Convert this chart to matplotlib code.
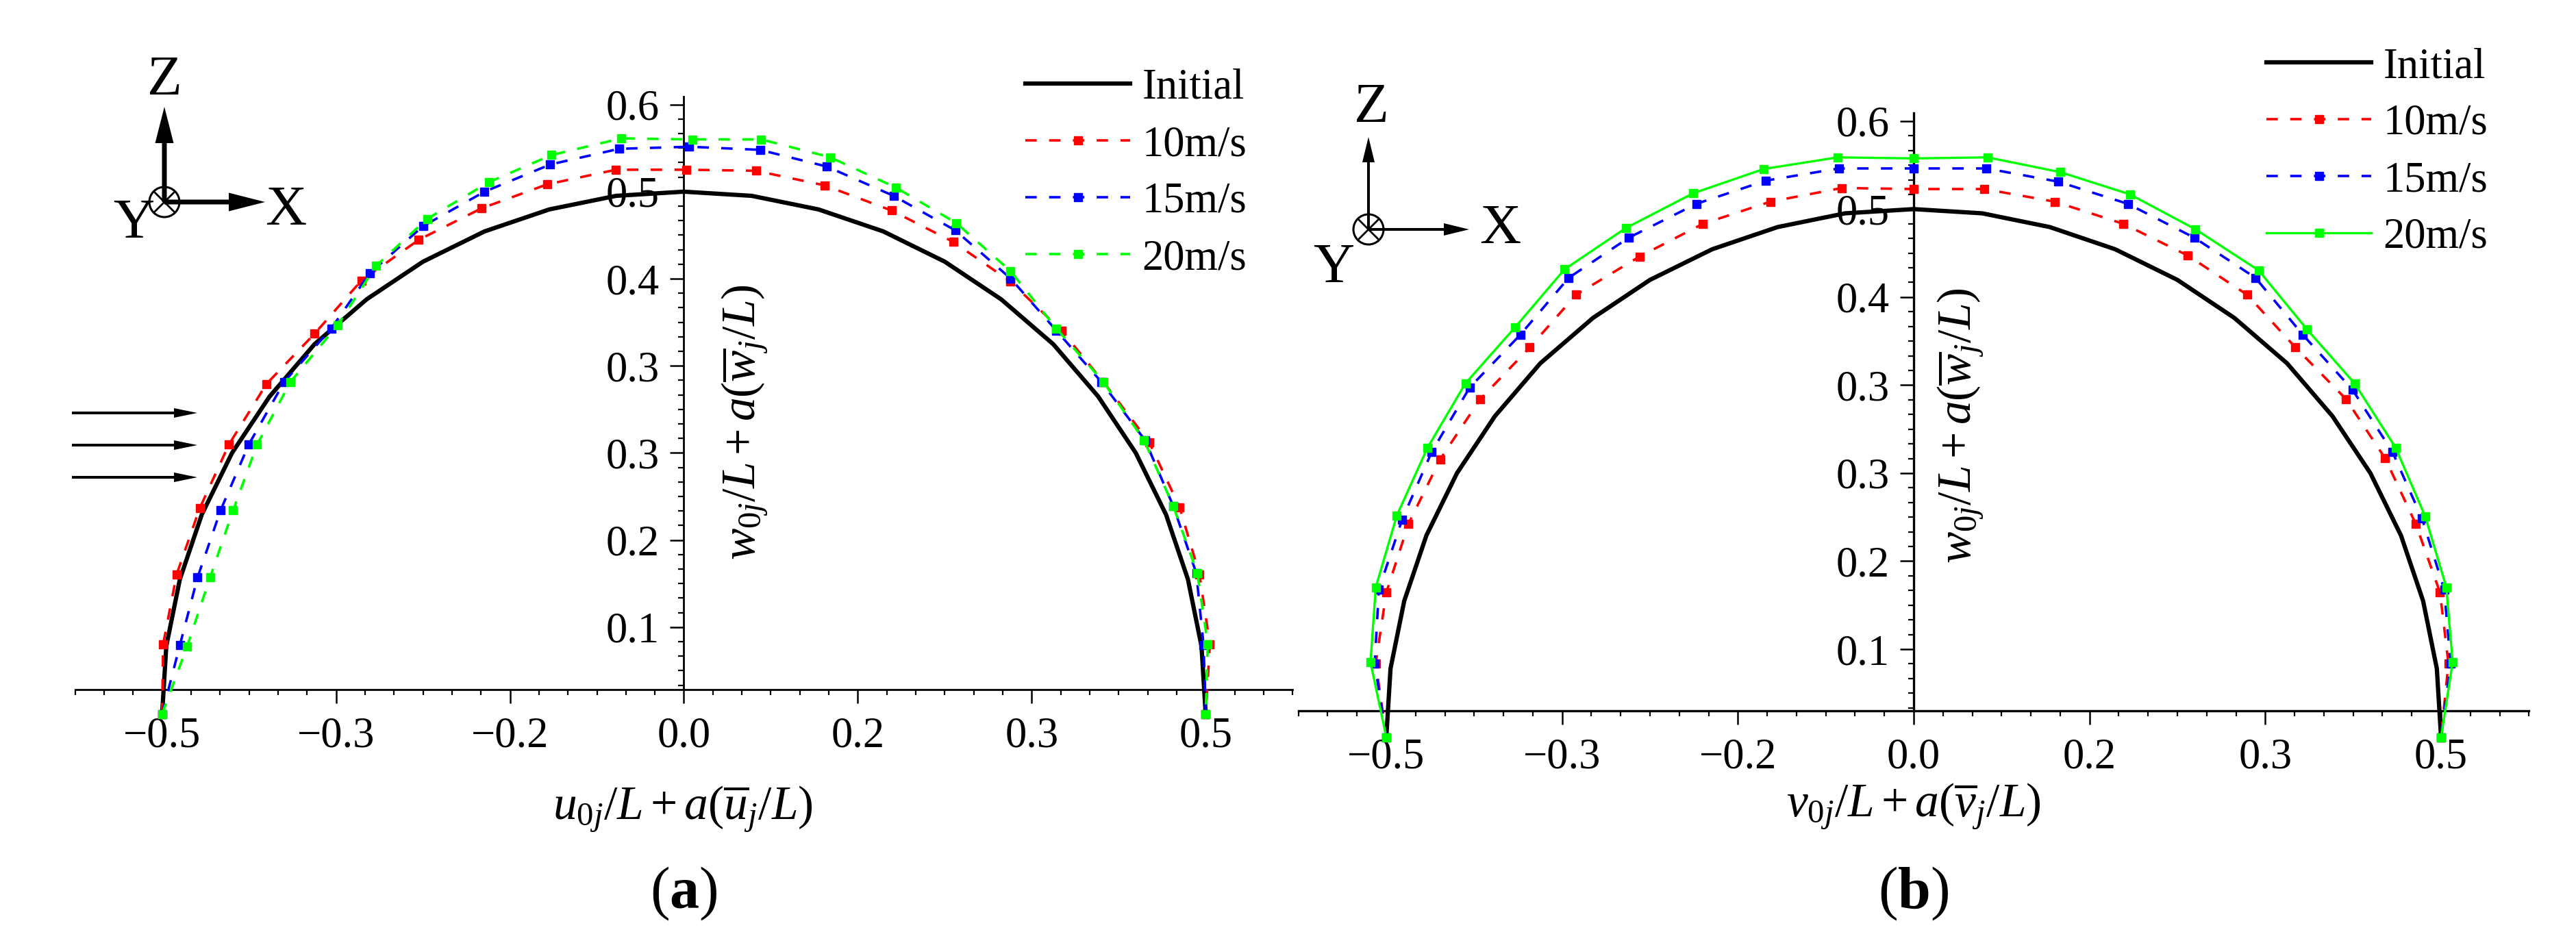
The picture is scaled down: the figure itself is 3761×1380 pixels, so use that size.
import matplotlib
matplotlib.use('Agg')
import matplotlib.pyplot as plt
from matplotlib.ticker import FixedLocator, MultipleLocator
from matplotlib.patches import Circle

# --------- data ---------
series_labels = ['Initial', '10m/s', '15m/s', '20m/s']

init_x = [-0.5, -0.496, -0.483, -0.462, -0.433, -0.397, -0.354, -0.304, -0.25, -0.191, -0.129, -0.065, 0.0,
          0.065, 0.129, 0.191, 0.25, 0.304, 0.354, 0.397, 0.433, 0.462, 0.483, 0.496, 0.5]
init_z = [0.0, 0.065, 0.129, 0.191, 0.25, 0.304, 0.354, 0.397, 0.433, 0.462, 0.483, 0.496, 0.5,
          0.496, 0.483, 0.462, 0.433, 0.397, 0.354, 0.304, 0.25, 0.191, 0.129, 0.065, 0.0]

# panel (a): along-wind plane
a10_x = [-0.5, -0.499, -0.486, -0.464, -0.436, -0.400, -0.354, -0.309, -0.254, -0.194, -0.131, -0.065, 0.002,
         0.069, 0.135, 0.199, 0.258, 0.313, 0.362, 0.402, 0.446, 0.475, 0.494, 0.504, 0.5]
a10_z = [0.0, 0.067, 0.134, 0.197, 0.258, 0.316, 0.364, 0.415, 0.454, 0.484, 0.507, 0.521, 0.521,
         0.520, 0.506, 0.482, 0.452, 0.414, 0.367, 0.318, 0.260, 0.198, 0.134, 0.067, 0.0]
a15_x = [-0.5, -0.483, -0.466, -0.444, -0.417, -0.383, -0.338, -0.301, -0.250, -0.191, -0.128, -0.062, 0.005,
         0.073, 0.137, 0.201, 0.260, 0.313, 0.357, 0.400, 0.442, 0.469, 0.491, 0.498, 0.5]
a15_z = [0.0, 0.066, 0.131, 0.195, 0.258, 0.318, 0.369, 0.422, 0.467, 0.500, 0.526, 0.541, 0.543,
         0.540, 0.524, 0.496, 0.463, 0.417, 0.367, 0.318, 0.262, 0.199, 0.135, 0.066, 0.0]
a20_x = [-0.5, -0.476, -0.454, -0.432, -0.409, -0.377, -0.332, -0.295, -0.246, -0.187, -0.127, -0.060, 0.008,
         0.074, 0.140, 0.203, 0.261, 0.313, 0.357, 0.402, 0.441, 0.469, 0.492, 0.502, 0.5]
a20_z = [0.0, 0.065, 0.131, 0.195, 0.258, 0.318, 0.372, 0.429, 0.474, 0.509, 0.535, 0.551, 0.550,
         0.550, 0.533, 0.504, 0.470, 0.424, 0.369, 0.318, 0.262, 0.199, 0.135, 0.067, 0.0]

# panel (b): cross-wind plane
b10_x = [-0.5, -0.510, -0.500, -0.479, -0.449, -0.411, -0.364, -0.320, -0.260, -0.200, -0.136, -0.068, 0.0,
         0.067, 0.134, 0.199, 0.260, 0.316, 0.362, 0.410, 0.447, 0.476, 0.499, 0.507, 0.5]
b10_z = [0.0, 0.070, 0.137, 0.202, 0.263, 0.320, 0.369, 0.419, 0.455, 0.486, 0.507, 0.520, 0.519,
         0.519, 0.507, 0.486, 0.456, 0.419, 0.369, 0.320, 0.264, 0.202, 0.137, 0.070, 0.0]
b15_x = [-0.5, -0.511, -0.507, -0.485, -0.457, -0.421, -0.373, -0.327, -0.270, -0.206, -0.140, -0.071, 0.0,
         0.069, 0.137, 0.203, 0.266, 0.324, 0.369, 0.416, 0.454, 0.482, 0.503, 0.509, 0.5]
b15_z = [0.0, 0.070, 0.140, 0.206, 0.270, 0.331, 0.381, 0.435, 0.473, 0.505, 0.527, 0.5385, 0.5385,
         0.5385, 0.526, 0.505, 0.473, 0.435, 0.381, 0.329, 0.270, 0.207, 0.140, 0.070, 0.0]
b20_x = [-0.5, -0.515, -0.510, -0.490, -0.461, -0.425, -0.378, -0.331, -0.273, -0.209, -0.142, -0.072, 0.0,
         0.070, 0.139, 0.205, 0.267, 0.327, 0.373, 0.418, 0.457, 0.485, 0.505, 0.511, 0.5]
b20_z = [0.0, 0.071, 0.142, 0.210, 0.274, 0.335, 0.388, 0.443, 0.482, 0.515, 0.538, 0.549, 0.548,
         0.549, 0.535, 0.514, 0.481, 0.442, 0.386, 0.335, 0.274, 0.209, 0.142, 0.071, 0.0]

# Origin-style ticks: positions at sixths / twelfths, labels rounded to 1 decimal
xtick_pos = [-0.5, -1 / 3, -1 / 6, 0.0, 1 / 6, 1 / 3, 0.5]
xtick_labels = ['\u22120.5', '\u22120.3', '\u22120.2', '0.0', '0.2', '0.3', '0.5']
ytick_pos = [1 / 12, 2 / 12, 3 / 12, 4 / 12, 5 / 12, 6 / 12, 7 / 12]
ytick_labels = ['0.1', '0.2', '0.3', '0.3', '0.4', '0.5', '0.6']

W, H = 3762, 1380
FS = 45
LABEL_FS = 50

plt.rcParams['font.family'] = ['Liberation Serif', 'DejaVu Serif']
plt.rcParams['mathtext.fontset'] = 'custom'
plt.rcParams['mathtext.rm'] = 'Liberation Serif'
plt.rcParams['mathtext.it'] = 'Liberation Serif:italic'
plt.rcParams['mathtext.bf'] = 'Liberation Serif:bold'
plt.rcParams['lines.scale_dashes'] = False


def px_axes(fig, left, right, top, bottom):
    # axes placed from pixel edges of the reference
    return fig.add_axes([left / W, 1 - bottom / H, (right - left) / W, (bottom - top) / H])


def style_axes(ax, ylow, spine_w):
    ax.set_xlim(-7 / 12, 7 / 12)
    ax.set_ylim(ylow, 0.591)
    ax.spines['top'].set_visible(False)
    ax.spines['right'].set_visible(False)
    ax.spines['left'].set_position(('data', 0))
    for s in ('left', 'bottom'):
        ax.spines[s].set_linewidth(spine_w)
    ax.xaxis.set_major_locator(FixedLocator(xtick_pos))
    ax.xaxis.set_minor_locator(MultipleLocator(1 / 36))
    ax.yaxis.set_major_locator(FixedLocator(ytick_pos))
    ax.yaxis.set_minor_locator(MultipleLocator(1 / 72))
    ax.set_xticklabels(xtick_labels)
    ax.set_yticklabels(ytick_labels)
    ax.tick_params(which='major', direction='out', length=14.4, width=1.8, labelsize=FS)
    ax.tick_params(which='minor', direction='out', length=6, width=1.6)
    ax.tick_params(axis='x', which='major', pad=14)
    ax.tick_params(axis='y', which='major', pad=11)
    ax.patch.set_alpha(0)


def draw_series(ax, curves, green_solid):
    ax.plot(init_x, init_z, color='black', lw=4.5, label=series_labels[0], clip_on=False, zorder=3)
    colors = ['#ff0000', '#0000ff', '#00ff00']
    for i, (xs, zs) in enumerate(curves):
        kw = dict(color=colors[i], lw=2.6, marker='s', ms=9, label=series_labels[i + 1],
                  clip_on=False, zorder=3)
        if green_solid and i == 2:
            kw['lw'] = 2.4
            ax.plot(xs, zs, ls='-', **kw)
        else:
            ax.plot(xs, zs, ls=(0, (12, 13)), **kw)


def add_legend(ax, left_px, top_px):
    ax.legend(loc='upper left', bbox_to_anchor=(left_px / W, 1 - top_px / H),
              bbox_transform=ax.figure.transFigure, frameon=False, fontsize=FS,
              borderpad=0, borderaxespad=0, handlelength=2.45, handletextpad=0.28,
              labelspacing=0.40, numpoints=1)


fig = plt.figure(figsize=(W / 100, H / 100), dpi=100)

ax_a = px_axes(fig, 109.7, 1887.3, 141, 1007)
style_axes(ax_a, 0.0236, 2.0)
draw_series(ax_a, [(a10_x, a10_z), (a15_x, a15_z), (a20_x, a20_z)], green_solid=False)
add_legend(ax_a, 1497, 100)

ax_b = px_axes(fig, 1895.7, 3692.3, 165, 1038)
style_axes(ax_b, 0.025, 2.4)
draw_series(ax_b, [(b10_x, b10_z), (b15_x, b15_z), (b20_x, b20_z)], green_solid=True)
add_legend(ax_b, 3309, 69)

# overlay in pixel units for labels and the sketch annotations
ov = fig.add_axes([0, 0, 1, 1])
ov.set_xlim(0, W)
ov.set_ylim(H, 0)
ov.axis('off')
ov.patch.set_alpha(0)

ov.text(997, 1181, r'$u_{0j}/L+a(\overline{u}_j/L)$', fontsize=LABEL_FS, ha='center', va='center')
ov.text(2794, 1178, r'$v_{0j}/L+a(\overline{v}_j/L)$', fontsize=LABEL_FS, ha='center', va='center')
ov.text(1088, 617, r'$w_{0j}/L+a(\overline{w}_j/L)$', fontsize=LABEL_FS, ha='center', va='center',
        rotation=90)
ov.text(2863, 622, r'$w_{0j}/L+a(\overline{w}_j/L)$', fontsize=LABEL_FS, ha='center', va='center',
        rotation=90)
ov.text(998, 1305, r'($\mathbf{a}$)', fontsize=62, ha='center', va='center')
ov.text(2794, 1305, r'($\mathbf{b}$)', fontsize=62, ha='center', va='center')


def axis_sketch(cx, cy, up_tip, right_tip, lw, hw, hl, letters):
    ov.arrow(cx, cy, 0, up_tip - cy, width=lw, head_width=hw, head_length=hl,
             length_includes_head=True, color='black', lw=0)
    ov.arrow(cx, cy, right_tip - cx, 0, width=lw, head_width=hw, head_length=hl,
             length_includes_head=True, color='black', lw=0)
    ov.add_patch(Circle((cx, cy), 22, fill=False, ec='black', lw=2.2))
    d = 15
    ov.plot([cx - d, cx + d], [cy - d, cy + d], color='black', lw=2.0)
    ov.plot([cx - d, cx + d], [cy + d, cy - d], color='black', lw=2.0)
    for txt, x, y in letters:
        ov.text(x, y, txt, fontsize=60, ha='center', va='baseline')


axis_sketch(240, 295, 156, 387, 7, 27, 53,
            [('Z', 240, 138), ('X', 417, 328), ('Y', 195, 347)])
axis_sketch(1998, 335, 200, 2145, 4, 18, 37,
            [('Z', 2002, 178), ('X', 2190, 355), ('Y', 1947, 412)])

# wind arrows on panel (a)
for yy in [603, 650, 697]:
    ov.arrow(105, yy, 183, 0, width=4, head_width=14, head_length=34,
             length_includes_head=True, color='black', lw=0)

fig.savefig('out.png', dpi=100)
